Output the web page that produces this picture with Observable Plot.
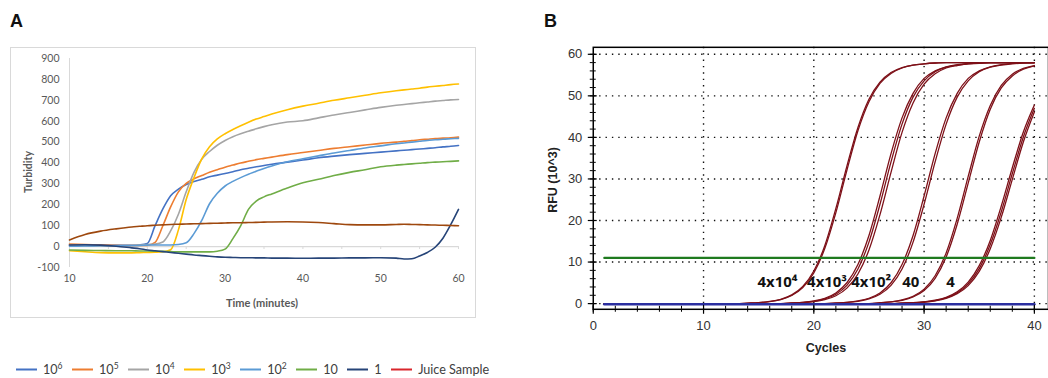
<!DOCTYPE html>
<html><head><meta charset="utf-8">
<script src="https://cdn.jsdelivr.net/npm/d3@7"></script>
<script src="https://cdn.jsdelivr.net/npm/@observablehq/plot@0.6"></script>
<style>
html,body{margin:0;padding:0;background:#fff;overflow:hidden;}
#root{position:relative;width:1048px;height:378px;overflow:hidden;font-family:Lato,"Open Sans",sans-serif;}
.letter{position:absolute;font-family:"Liberation Sans",Arial,sans-serif;font-weight:bold;font-size:18px;color:#111;line-height:1;}
#boxA{position:absolute;left:10px;top:47px;width:464px;height:269px;border:1px solid #d9d9d9;}
#plotA{position:absolute;left:0;top:0;}
#plotB{position:absolute;left:530px;top:0;}
.ttl{position:absolute;transform:translate(-50%,-50%);white-space:nowrap;font-weight:bold;line-height:1;}
.rot{transform:translate(-50%,-50%) rotate(-90deg);}
#legend{position:absolute;left:16px;top:369px;transform:translateY(-50%);display:flex;align-items:center;font-size:12.6px;color:#404040;font-family:Lato,sans-serif;}
#legend .sw{display:inline-block;width:21px;height:2px;margin-right:6px;}
#legend .it{display:flex;align-items:center;margin-right:9.5px;}
#legend sup{font-size:8.5px;vertical-align:5px;line-height:0;}
</style></head>
<body><div id="root">
<div class="letter" style="left:10px;top:12px;">A</div>
<div class="letter" style="left:544px;top:12px;">B</div>
<div id="boxA"></div>
<div id="plotA"></div>
<div id="plotB"></div>
<div class="ttl rot" style="left:28px;top:172px;font-size:10.5px;color:#595959;">Turbidity</div>
<div class="ttl" style="left:262px;top:302px;font-size:11px;color:#595959;">Time (minutes)</div>
<div class="ttl rot" style="left:553px;top:180px;font-size:12.5px;color:#222;font-family:'Liberation Sans',Arial,sans-serif;">RFU (10^3)</div>
<div class="ttl" style="left:826px;top:348px;font-size:12.5px;color:#222;font-family:'Liberation Sans',Arial,sans-serif;">Cycles</div>
<div id="legend"></div>
</div>
<script>
// ---------- Panel A: turbidity (LAMP) ----------
const timeA = [10,12,14,16,18,19,20,21,22,23,24,25,26,27,28,29,30,31,32,33,34,35,36,38,40,42,44,46,48,50,52,53,54,55,56,57,58,59,60];
const s1e6  = [8,8,7,6,6,8,15,100,180,243,275,297,312,322,334,342,350,358,368,375,382,388,394,404,414,425,433,440,446,452,458,461,464,467,470,473,477,480,484];
const s1e5  = [12,10,8,6,5,5,6,20,100,190,262,302,324,340,356,368,380,390,400,408,416,422,428,440,450,460,470,478,486,494,500,504,507,511,514,517,519,521,524];
const s1e4  = [5,4,3,3,5,7,10,12,22,75,155,262,355,418,455,485,508,526,540,552,564,574,583,596,602,616,630,642,654,666,676,680,684,688,692,696,699,702,704];
const s1e3  = [-20,-25,-29,-30,-30,-29,-28,-27,-25,-15,80,225,330,420,478,515,540,560,578,595,610,622,634,655,672,686,700,712,724,736,746,750,754,758,763,767,771,775,778];
const s1e2  = [2,3,4,5,5,6,7,8,8,8,10,18,62,125,205,255,290,312,330,346,360,374,386,406,420,434,448,460,472,482,492,496,500,504,508,511,514,516,518];
const s10   = [-16,-18,-19,-20,-20,-21,-21,-22,-23,-24,-25,-25,-25,-25,-25,-22,-12,38,99,178,218,238,252,280,305,322,340,355,368,382,390,393,396,399,402,404,406,408,410];
const s1    = [8,9,7,2,-6,-10,-16,-20,-24,-28,-32,-36,-40,-43,-46,-49,-51,-52,-53,-53,-54,-54,-55,-55,-56,-55,-55,-54,-54,-53,-55,-59,-58,-45,-28,-3,40,105,178];
const juice = [32,58,74,85,94,97,100,102,104,106,107,108,109,110,111,112,113,114,114,115,116,117,118,119,118,115,110,105,104,104,106,107,106,105,104,103,102,101,100];
const seriesNames = ["10⁶","10⁵","10⁴","10³","10²","10","1","Juice Sample"];
const seriesHtml  = ["10<sup>6</sup>","10<sup>5</sup>","10<sup>4</sup>","10<sup>3</sup>","10<sup>2</sup>","10","1","Juice Sample"];
const seriesValues = [s1e6,s1e5,s1e4,s1e3,s1e2,s10,s1,juice];
const lineColors   = ["#4472C4","#ED7D31","#A5A5A5","#FFC000","#5B9BD5","#70AD47","#264478","#9E480E"];
const legendColors = ["#4472C4","#ED7D31","#A5A5A5","#FFC000","#5B9BD5","#70AD47","#264478","#D9262C"];
const yTicksA = [-100,0,100,200,300,400,500,600,700,800,900];
const xTicksA = [10,20,30,40,50,60];
const xMinorA = [10,15,20,25,30,35,40,45,50,55,60];

// ---------- Panel B: qPCR amplification ----------
const cycles = [1,2,3,4,5,6,7,8,9,10,11,12,13,14,15,16,17,18,19,20,21,22,23,24,25,26,27,28,29,30,31,32,33,34,35,36,37,38,39,40];
const w4e4a = [0,0,0,0,0, 0,0,0,0,0, 0,0,0,0.12,0.25, 0.52,1.04,2.09,4.11,7.83, 14.0,22.9,33.1,42.4,49.2, 53.3,55.6,56.8,57.4,57.7, 57.9,58,58,58,58, 58,58,58,58,58];
const w4e4b = [0,0,0,0,0, 0,0,0,0,0, 0,0,0,0.11,0.23, 0.48,0.98,1.95,3.85,7.36, 13.3,21.9,32.1,41.6,48.6, 53.0,55.4,56.7,57.4,57.7, 57.9,58,58,58,58, 58,58,58,58,58];
const w4e3a = [0,0,0,0,0, 0,0,0,0,0, 0,0,0,0,0, 0,0,0.15,0.31,0.64, 1.29,2.57,5.02,9.40,16.4, 25.9,36.1,44.7,50.6,54.2, 56.0,57.0,57.5,57.8,58, 58,58,58,58,58];
const w4e3b = [0,0,0,0,0, 0,0,0,0,0, 0,0,0,0,0, 0,0,0.13,0.27,0.55, 1.12,2.24,4.40,8.32,14.8, 23.9,34.1,43.2,49.7,53.6, 55.8,56.9,57.4,57.7,57.9, 58,58,58,58,58];
const w4e3c = [0,0,0,0,0, 0,0,0,0,0, 0,0,0,0,0, 0,0,0.11,0.23,0.46, 0.94,1.89,3.73,7.13,12.9, 21.4,31.6,41.2,48.3,52.8, 55.3,56.7,57.3,57.7,57.8, 58,58,58,58,58];
const w4e2a = [0,0,0,0,0, 0,0,0,0,0, 0,0,0,0,0, 0,0,0,0,0, 0,0.15,0.31,0.64,1.29, 2.57,5.02,9.40,16.4,25.9, 36.1,44.7,50.6,54.2,56.0, 57.0,57.5,57.8,58,58];
const w4e2b = [0,0,0,0,0, 0,0,0,0,0, 0,0,0,0,0, 0,0,0,0,0, 0,0.13,0.27,0.55,1.12, 2.24,4.40,8.32,14.8,23.9, 34.1,43.2,49.7,53.6,55.8, 56.9,57.4,57.7,57.9,58];
const w40a  = [0,0,0,0,0, 0,0,0,0,0, 0,0,0,0,0, 0,0,0,0,0, 0,0,0,0,0, 0.19,0.39,0.79,1.59,3.15, 6.09,11.2,19.1,29.0,38.9, 46.8,51.9,54.8,56.4,57.2];
const w40b  = [0,0,0,0,0, 0,0,0,0,0, 0,0,0,0,0, 0,0,0,0,0, 0,0,0,0,0, 0.21,0.43,0.87,1.76,3.49, 6.70,12.2,20.5,30.6,40.3, 47.7,52.5,55.2,56.6,57.3];
const w4a   = [0,0,0,0,0, 0,0,0,0,0, 0,0,0,0,0, 0,0,0,0,0, 0,0,0,0,0, 0,0,0.12,0.23,0.43, 0.81,1.52,2.84,5.18,9.13, 15.2,23.5,32.7,41.3,47.8];
const w4b   = [0,0,0,0,0, 0,0,0,0,0, 0,0,0,0,0, 0,0,0,0,0, 0,0,0,0,0, 0,0,0.11,0.20,0.39, 0.74,1.39,2.59,4.74,8.41, 14.2,22.1,31.3,40.1,47.0];
const w4c   = [0,0,0,0,0, 0,0,0,0,0, 0,0,0,0,0, 0,0,0,0,0, 0,0,0,0,0, 0,0,0.10,0.19,0.35, 0.67,1.26,2.36,4.33,7.74, 13.2,20.8,29.9,38.9,46.1];
const wells = [w4e4a,w4e4b,w4e3a,w4e3b,w4e3c,w4e2a,w4e2b,w40a,w40b,w4a,w4b,w4c];
const thresholdRFU = 11;
const baselineRFU = -0.15;
const lineCycles = [1,40];
const gridCycles = [10,20,30,40];
const gridRFU = [0,10,20,30,40,50,60];
const majorCycles = [0,10,20,30,40];
const minorCycles = [0,2,4,6,8,10,12,14,16,18,20,22,24,26,28,30,32,34,36,38,40];
const majorRFU = [0,10,20,30,40,50,60];
const minorRFU = [0,2,4,6,8,10,12,14,16,18,20,22,24,26,28,30,32,34,36,38,40,42,44,46,48,50,52,54,56,58,60];
const copyLabels = ["4x10⁴","4x10³","4x10²","40","4"];
const labelCycle = [16.7,21.2,25.2,28.8,32.4];
const labelRFU = 5.1;

// ---------- build panel A ----------
const rowsA = seriesValues.flatMap((vals, i) => vals.map((v, j) => ({time: timeA[j], value: v, series: seriesNames[i]})));
const plotA = Plot.plot({
  width: 480, height: 330,
  marginLeft: 69, marginRight: 22, marginTop: 58, marginBottom: 63,
  x: {domain: [10, 60]},
  y: {domain: [-100, 900]},
  color: {domain: seriesNames, range: lineColors},
  style: {fontFamily: "Lato, sans-serif", fontSize: "10.5px", color: "#595959", background: "none", overflow: "visible"},
  marks: [
    Plot.axisY({ticks: yTicksA, tickSize: 0, tickPadding: 10, label: null, tickFormat: d => String(d)}),
    Plot.axisX({ticks: xTicksA, tickSize: 0, tickPadding: 7, label: null, tickFormat: d => String(d)}),
    Plot.ruleX([10], {stroke: "#d9d9d9", strokeWidth: 1}),
    Plot.ruleY([0], {stroke: "#d9d9d9", strokeWidth: 1.2}),
    Plot.ruleX(xMinorA, {y1: 0, y2: -14, stroke: "#d9d9d9"}),
    Plot.line(rowsA, {x: "time", y: "value", z: "series", stroke: "series", strokeWidth: 1.6, curve: "monotone-x"})
  ]
});
document.getElementById("plotA").appendChild(plotA);

// legend
const lg = document.getElementById("legend");
seriesHtml.forEach((h, i) => {
  const it = document.createElement("div");
  it.className = "it";
  it.innerHTML = `<span class="sw" style="background:${legendColors[i]}"></span><span>${h}</span>`;
  lg.appendChild(it);
});

// ---------- build panel B ----------
const rowsB = wells.flatMap((vals, i) => vals.map((v, j) => ({cycle: cycles[j], rfu: v, well: i})));
const thrRows = lineCycles.map(c => ({cycle: c, rfu: thresholdRFU}));
const baseRows = lineCycles.map(c => ({cycle: c, rfu: baselineRFU}));
const labRows = copyLabels.map((t, i) => ({cycle: labelCycle[i], rfu: labelRFU, text: t}));
const dotted = {stroke: "#111", strokeWidth: 1.4, strokeDasharray: "1.4,5"};
const plotB = Plot.plot({
  width: 520, height: 378,
  marginLeft: 63, marginRight: 0, marginTop: 47, marginBottom: 68,
  x: {domain: [0, 41.28]},
  y: {domain: [-1.37, 61.68]},
  style: {fontFamily: "'Liberation Sans', Arial, sans-serif", fontSize: "13px", color: "#333", background: "none", overflow: "hidden"},
  marks: [
    Plot.ruleX(gridCycles, dotted),
    Plot.ruleY(gridRFU, dotted),
    Plot.line(rowsB, {x: "cycle", y: "rfu", z: "well", stroke: "#7d1018", strokeWidth: 1.3, curve: "monotone-x"}),
    Plot.line(thrRows, {x: "cycle", y: "rfu", stroke: "#1f7a1f", strokeWidth: 2.2}),
    Plot.line(baseRows, {x: "cycle", y: "rfu", stroke: "#2b2fa0", strokeWidth: 2.6}),
    Plot.text(labRows, {x: "cycle", y: "rfu", text: "text", fontFamily: "'Open Sans', Lato, sans-serif", fontWeight: "bold", fontSize: 15, fill: "#111"}),
    Plot.frame({stroke: "#000", strokeWidth: 1.5}),
    Plot.axisY({ticks: majorRFU, tickSize: 5, tickPadding: 6, label: null, stroke: "#000", strokeWidth: 1.2}),
    Plot.axisY({ticks: majorRFU, tickSize: -4, tickFormat: () => "", label: null, stroke: "#000", strokeWidth: 1.2}),
    Plot.axisY({ticks: minorRFU, tickSize: 3, tickFormat: () => "", label: null, stroke: "#000"}),
    Plot.axisY({ticks: minorRFU, tickSize: -3, tickFormat: () => "", label: null, stroke: "#000"}),
    Plot.axisX({ticks: majorCycles, tickSize: 5, tickPadding: 7, label: null, stroke: "#000", strokeWidth: 1.2}),
    Plot.axisX({ticks: majorCycles, tickSize: -4, tickFormat: () => "", label: null, stroke: "#000", strokeWidth: 1.2}),
    Plot.axisX({ticks: minorCycles, tickSize: 3, tickFormat: () => "", label: null, stroke: "#000"}),
    Plot.axisX({ticks: minorCycles, tickSize: -3, tickFormat: () => "", label: null, stroke: "#000"})
  ]
});
document.getElementById("plotB").appendChild(plotB);
</script>
</body></html>
